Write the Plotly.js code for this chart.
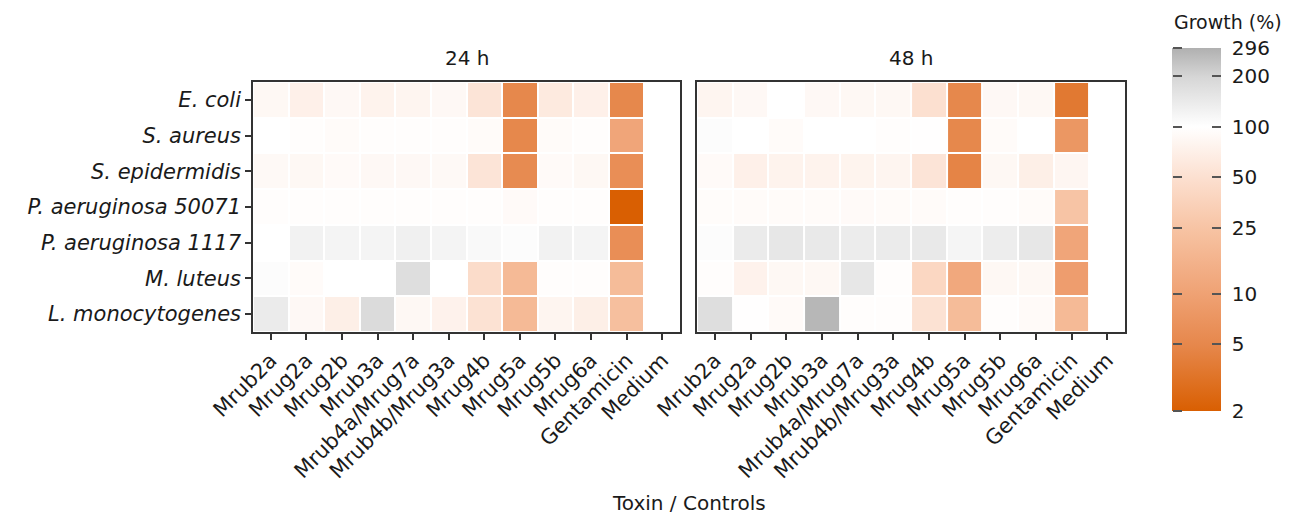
<!DOCTYPE html>
<html>
<head>
<meta charset="utf-8">
<script src="https://cdn.plot.ly/plotly-3.0.1.min.js"></script>
<style>html,body{margin:0;padding:0;background:#fff;}#chart{width:1311px;height:515px;}</style>
</head>
<body>
<div id="chart"></div>
<script>
const toxins = ["Mrub2a","Mrug2a","Mrug2b","Mrub3a","Mrub4a/Mrug7a","Mrub4b/Mrug3a","Mrug4b","Mrug5a","Mrug5b","Mrug6a","Gentamicin","Medium"];
const bacteria = ["E. coli","S. aureus","S. epidermidis","P. aeruginosa 50071","P. aeruginosa 1117","M. luteus","L. monocytogenes"];
// Growth (%) per bacterium (rows, top to bottom) x toxin (columns)
const growth24 = [
  [85, 72, 86, 76, 80, 86, 55, 5, 62, 72, 5, 100],
  [100, 95, 92, 95, 95, 95, 92, 5, 92, 95, 11, 100],
  [88, 85, 90, 86, 86, 88, 55, 5.5, 90, 85, 6, 100],
  [95, 95, 95, 95, 95, 95, 95, 90, 95, 95, 2, 100],
  [100, 125, 120, 120, 128, 120, 110, 105, 125, 120, 6, 100],
  [105, 92, 100, 100, 175, 100, 45, 19, 95, 95, 20, 100],
  [140, 86, 70, 182, 85, 75, 52, 19, 80, 70, 22, 100]
];
const growth48 = [
  [80, 86, 100, 86, 85, 85, 50, 5, 86, 85, 3.6, 100],
  [105, 100, 92, 100, 100, 95, 98, 5, 92, 100, 7.5, 100],
  [90, 72, 76, 76, 78, 80, 55, 4.6, 85, 70, 82, 100],
  [93, 92, 92, 92, 90, 92, 92, 95, 95, 92, 25, 100],
  [105, 140, 150, 145, 138, 140, 145, 118, 135, 150, 11, 100],
  [95, 75, 85, 85, 150, 95, 40, 12, 85, 85, 9, 100],
  [175, 98, 90, 275, 95, 95, 52, 20, 95, 90, 19, 100]
];
const panelTitles = ["24 h", "48 h"];
const legendTitle = "Growth (%)";
const legendTicks = [2, 5, 10, 25, 50, 100, 200, 296];

const zmin = Math.log10(2), zmax = Math.log10(296);
const colorscale = [
  [0.0, "#D95F02"],
  [0.18, "#E6874B"],
  [0.32, "#EFA173"],
  [0.50, "#F7C3A3"],
  [0.64, "#FCDFCF"],
  [0.783, "#FFFFFF"],
  [0.92, "#D6D6D6"],
  [1.0, "#B0B0B0"]
];
const toLog = m => m.map(r => r.map(v => Math.log10(v)));
const font = "DejaVu Sans, Liberation Sans, sans-serif";
const tickVals = legendTicks.map(v => Math.log10(v));

const cbBase = {
  xanchor: "left", xpad: 0, ypad: 0,
  y: 0.41, yanchor: "middle", len: 363, lenmode: "pixels",
  thicknessmode: "pixels", outlinewidth: 0,
  tickvals: tickVals
};

function trace(data, xa, ya, showScale) {
  return {
    type: "heatmap",
    x: toxins, y: bacteria, z: toLog(data), customdata: data,
    xaxis: xa, yaxis: ya,
    zmin: zmin, zmax: zmax, colorscale: colorscale,
    xgap: 2, ygap: 2,
    hovertemplate: "%{y}<br>%{x}<br>%{customdata}%<extra></extra>",
    showscale: showScale,
    colorbar: Object.assign({}, cbBase, {
      x: 1.0539, thickness: 49,
      ticktext: legendTicks.map(v => "\u00a0" + v),
      ticks: "inside", ticklen: 9, tickcolor: "#555", tickwidth: 1.5,
      tickfont: {family: font, size: 20, color: "#1a1a1a"}
    })
  };
}

// invisible companion trace: only draws the left-edge tick marks of the colour bar
const tickTrace = {
  type: "heatmap", x: toxins, y: bacteria, z: toLog(growth24),
  xaxis: "x", yaxis: "y", opacity: 0, hoverinfo: "skip",
  zmin: zmin, zmax: zmax, colorscale: [[0, "rgba(0,0,0,0)"], [1, "rgba(0,0,0,0)"]],
  showscale: true,
  colorbar: Object.assign({}, cbBase, {
    x: 1.0539, thickness: 1, bgcolor: "rgba(0,0,0,0)",
    ticks: "outside", ticklen: 9, tickcolor: "#555", tickwidth: 1.5,
    showticklabels: false
  })
};

const xbase = {
  type: "category", tickangle: -45, ticks: "outside", ticklen: 6, tickwidth: 1.5, tickcolor: "#333",
  tickfont: {family: font, size: 21, color: "#1a1a1a"},
  showline: true, mirror: true, linecolor: "#333", linewidth: 1.5,
  showgrid: false, zeroline: false, fixedrange: true
};
const ybase = {
  type: "category", autorange: "reversed", ticks: "outside", ticklen: 6, tickwidth: 1.5, tickcolor: "#333",
  tickfont: {family: font, size: 21, color: "#1a1a1a"},
  showline: true, mirror: true, linecolor: "#333", linewidth: 1.5,
  showgrid: false, zeroline: false, fixedrange: true
};

const layout = {
  width: 1311, height: 515,
  margin: {l: 253, r: 186, t: 82, b: 183},
  paper_bgcolor: "#fff", plot_bgcolor: "#fff",
  font: {family: font, color: "#1a1a1a"},
  xaxis: Object.assign({}, xbase, {domain: [0, 0.4897], anchor: "y"}),
  yaxis: Object.assign({}, ybase, {anchor: "x", tickvals: bacteria, ticktext: bacteria.map(b => "<i>" + b + "</i>")}),
  xaxis2: Object.assign({}, xbase, {domain: [0.5092, 1], anchor: "y2"}),
  yaxis2: Object.assign({}, ybase, {anchor: "x2", showticklabels: false, ticks: ""}),
  annotations: [
    {text: panelTitles[0], xref: "x domain", yref: "paper", x: 0.5, y: 1.0, yshift: 10, showarrow: false,
     xanchor: "center", yanchor: "bottom", font: {family: font, size: 20, color: "#1a1a1a"}},
    {text: panelTitles[1], xref: "x2 domain", yref: "paper", x: 0.5, y: 1.0, yshift: 10, showarrow: false,
     xanchor: "center", yanchor: "bottom", font: {family: font, size: 20, color: "#1a1a1a"}},
    {text: "Toxin / Controls", xref: "paper", yref: "paper", x: 0.5, y: 0, yshift: -171, showarrow: false,
     xanchor: "center", yanchor: "middle", font: {family: font, size: 20, color: "#1a1a1a"}},
    {text: legendTitle, xref: "paper", yref: "paper", x: 1.0539, xshift: 0, y: 1.0, yshift: 60, showarrow: false,
     xanchor: "left", yanchor: "middle", font: {family: font, size: 19, color: "#1a1a1a"}}
  ],
  showlegend: false
};

Plotly.newPlot("chart", [trace(growth24, "x", "y", true), trace(growth48, "x2", "y2", false), tickTrace], layout, {displayModeBar: false});
</script>
</body>
</html>
